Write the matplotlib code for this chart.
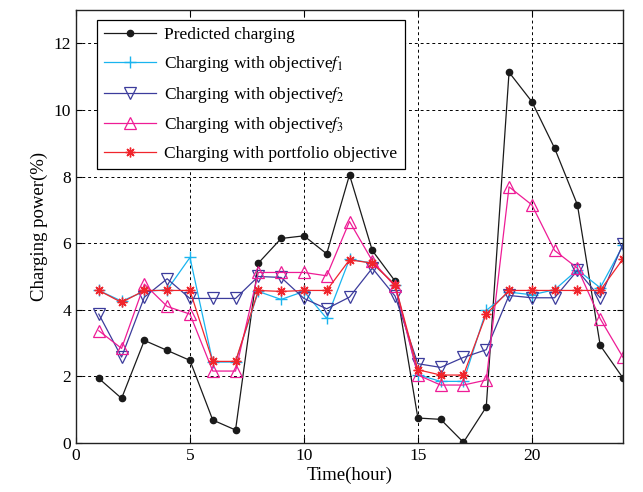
import matplotlib
matplotlib.use("Agg")
import matplotlib.pyplot as plt

hours = list(range(1, 25))
predicted = [1.94, 1.34, 3.08, 2.78, 2.48, 0.69, 0.39, 5.4, 6.14, 6.22, 5.68, 8.05,
             5.78, 4.86, 0.75, 0.71, 0.02, 1.08, 11.13, 10.25, 8.85, 7.15, 2.93, 1.95]
obj_f1 = [4.58, 4.26, 4.55, 4.6, 5.57, 2.43, 2.43, 4.55, 4.31, 4.55, 3.74, 5.52,
          5.4, 4.75, 2.05, 1.85, 1.85, 3.98, 4.53, 4.45, 4.6, 5.2, 4.66, 5.93]
obj_f2 = [3.87, 2.58, 4.38, 4.93, 4.34, 4.34, 4.34, 5.0, 4.97, 4.34, 4.03, 4.38,
          5.25, 4.41, 2.38, 2.27, 2.57, 2.8, 4.43, 4.36, 4.36, 5.18, 4.36, 5.98]
obj_f3 = [3.37, 2.84, 4.77, 4.1, 3.87, 2.16, 2.16, 5.12, 5.12, 5.12, 5.02, 6.65,
          5.47, 4.7, 2.04, 1.74, 1.74, 1.89, 7.69, 7.15, 5.78, 5.25, 3.73, 2.57]
portfolio = [4.58, 4.22, 4.58, 4.58, 4.58, 2.45, 2.45, 4.58, 4.55, 4.58, 4.58, 5.5,
             5.4, 4.75, 2.2, 2.04, 2.04, 3.87, 4.58, 4.58, 4.58, 4.58, 4.58, 5.53]

labels = ["Predicted charging",
          "Charging with objective$f_1$",
          "Charging with objective$f_2$",
          "Charging with objective$f_3$",
          "Charging with portfolio objective"]
xticks = [0, 5, 10, 15, 20]
yticks = [0, 2, 4, 6, 8, 10, 12]

plt.rcParams['font.family'] = ['Liberation Serif', 'DejaVu Serif']
plt.rcParams['mathtext.fontset'] = 'stix'

fig = plt.figure(figsize=(6.43, 4.92), dpi=100)
ax = fig.add_axes([76/643, 1-443/492, (623-76)/643, (443-10)/492])

ax.plot(hours, predicted, color='#1a1a1a', lw=0.9, marker='o', ms=4.5, label=labels[0])
ax.plot(hours, obj_f1, color='#19b4ef', lw=0.9, marker='+', ms=9, mew=1.0, label=labels[1])
ax.plot(hours, obj_f2, color='#3c3c9c', lw=0.9, marker='v', ms=8.5, mfc='none', mew=0.9, label=labels[2])
ax.plot(hours, obj_f3, color='#ee1c96', lw=0.9, marker='^', ms=8.5, mfc='none', mew=0.9, label=labels[3])
ax.plot(hours, portfolio, color='#f0252c', lw=0.9, marker=(8, 2, 0), ms=7, mew=1.0, label=labels[4])

ax.set_xlim(0, 24)
ax.set_ylim(0, 13)
ax.set_xticks(xticks)
ax.set_yticks(yticks)
ax.tick_params(direction='in', labelsize=12.5, top=True, right=True, length=4)
ax.grid(True, color='black', linestyle=(0, (3, 3)), linewidth=0.7)
for s in ax.spines.values():
    s.set_linewidth(1.0)
    s.set_color('#222222')

ax.set_xlabel("Time(hour)", fontsize=13.5, labelpad=2)
ax.set_ylabel("Charging power(%)", fontsize=13.5, labelpad=4)

leg = ax.legend(loc='upper left', bbox_to_anchor=(0.038, 0.977), borderaxespad=0,
                fontsize=12.5, fancybox=False, framealpha=1, edgecolor='black',
                borderpad=0.4, labelspacing=0.62, handlelength=3.0, handletextpad=0.5)
leg.get_frame().set_linewidth(0.9)

fig.savefig("out.png", dpi=100)
